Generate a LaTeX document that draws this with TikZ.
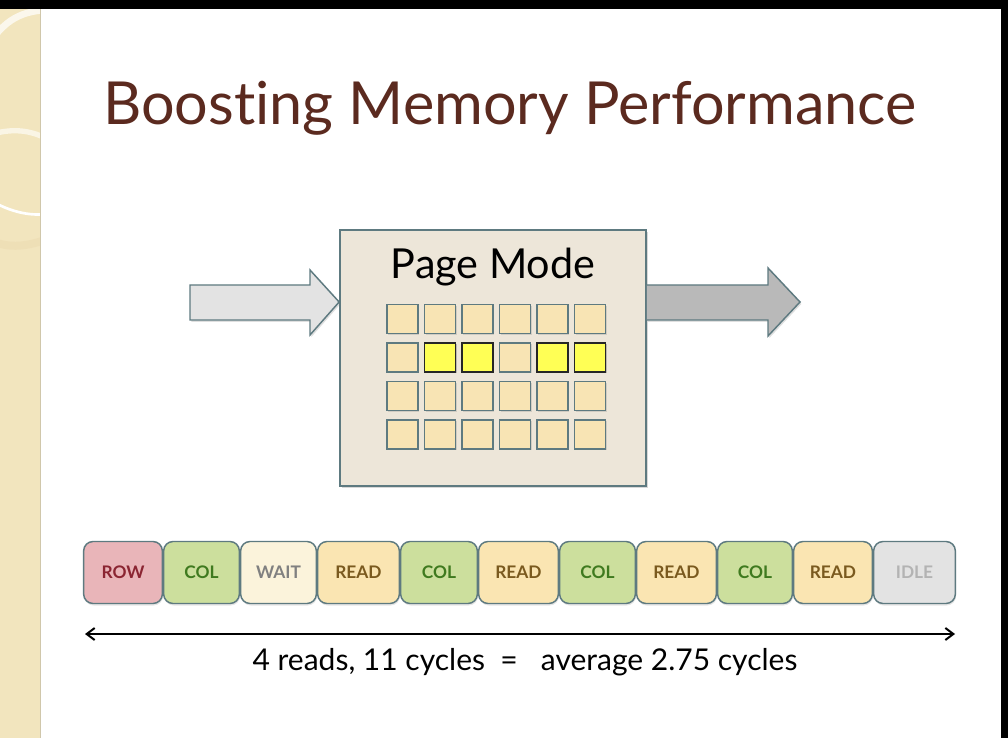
\documentclass[tikz,border=0pt]{standalone}
\usepackage{fontspec}
\setmainfont{Lato}[Ligatures={NoCommon}]
\usetikzlibrary{arrows.meta,shadows}
\definecolor{titlec}{HTML}{5B2A1F}
\definecolor{edgec}{HTML}{5E7A80}
\definecolor{stripc}{HTML}{F2E5BE}
\definecolor{boxfill}{HTML}{EDE6D9}
\definecolor{cellfill}{HTML}{F8E4B4}
\definecolor{hifill}{HTML}{FFFF55}
\definecolor{rowf}{HTML}{E9B5B9}\definecolor{rowt}{HTML}{8B2532}
\definecolor{colf}{HTML}{CCDF9D}\definecolor{colt}{HTML}{3F7A1F}
\definecolor{waitf}{HTML}{FBF3DB}\definecolor{waitt}{HTML}{808080}
\definecolor{readf}{HTML}{FAE5B2}\definecolor{readt}{HTML}{7A5A1F}
\definecolor{idlef}{HTML}{E3E3E3}\definecolor{idlet}{HTML}{B3B3B3}
\tikzset{
  cell/.style={draw=edgec,line width=1.4pt,fill=cellfill,minimum width=23.25pt,minimum height=21.75pt,inner sep=0pt,drop shadow={opacity=0.25,shadow xshift=1pt,shadow yshift=-1pt}},
  hicell/.style={cell,draw=black!85,fill=hifill},
  slot/.style={draw=edgec,line width=1.1pt,rounded corners=7pt,inner sep=0pt,minimum height=46.5pt,font=\bfseries\fontsize{13}{13}\selectfont,drop shadow={opacity=0.2,shadow xshift=0.5pt,shadow yshift=-1.5pt}},
  bigarrow/.style={draw=edgec,line width=1.1pt,line join=miter}
}
\begin{document}
\begin{tikzpicture}[x=0.75pt,y=-0.75pt]
\useasboundingbox (0,0) rectangle (1008,738);
\fill[white] (0,0) rectangle (1008,738);
% left decorative strip
\begin{scope}
\clip (0,0) rectangle (40,738);
\fill[stripc] (0,0) rectangle (40,738);
\draw[white!70!stripc,line width=5pt] (-20,60) .. controls (0,20) and (20,12) .. (45,10);
\draw[stripc!85!brown,line width=6pt,opacity=0.4] (-10,240) .. controls (10,250) and (30,245) .. (45,240);
\draw[white!60!stripc,line width=4pt] (-10,135) .. controls (10,128) and (30,130) .. (45,138);
\draw[white,line width=2pt] (-10,200) .. controls (10,212) and (30,216) .. (45,214);
\end{scope}
\draw[stripc!70!gray,line width=1pt] (40.5,0) -- (40.5,738);
% black frame edges
\fill[black] (0,0) rectangle (1008,9);
\fill[black] (1001,0) rectangle (1008,738);
% title
\node[text=titlec,font=\fontsize{44.5}{48}\selectfont] (title) at (510,108) {Boosting Memory Performance};
% page mode box
\node[draw=edgec,line width=1.3pt,fill=boxfill,minimum width=229.5pt,minimum height=192pt,inner sep=0pt,drop shadow={opacity=0.3,shadow xshift=1.5pt,shadow yshift=-1.5pt}] (pm) at (493,358) {};
\node[font=\fontsize{31}{33}\selectfont] (pmt) at (493,267) {Page Mode};
% grid
\foreach \r/\y in {1/319,2/357.5,3/396,4/434.5}{
  \foreach \c/\x in {1/402.5,2/440,3/477.5,4/515,5/552.5,6/590}{
    \node[cell] (c\r\c) at (\x,\y) {};
  }
}
\foreach \c/\x in {2/440,3/477.5,5/552.5,6/590}{
  \node[hicell] (h\c) at (\x,357.5) {};
}
% arrows
\coordinate (inTip) at (pm.west |- 0,302);
\draw[bigarrow,fill=gray!22,drop shadow={opacity=0.25,shadow xshift=1pt,shadow yshift=-1.5pt}] (190,285) -- (310,285) -- (310,270) -- (inTip) -- (310,335) -- (310,320) -- (190,320) -- cycle;
\coordinate (outTip) at (800,302);
\draw[bigarrow,fill=gray!55,drop shadow={opacity=0.25,shadow xshift=1pt,shadow yshift=-1.5pt}] (pm.east |- 0,285) -- (768,285) -- (768,268) -- (outTip) -- (768,336) -- (768,320) -- (pm.east |- 0,320);
% timeline slots
\foreach \n/\a/\b/\lab/\f/\t in {
  s1/83/163/ROW/rowf/rowt,
  s2/163/240/COL/colf/colt,
  s3/240/317/WAIT/waitf/waitt,
  s4/317/400/READ/readf/readt,
  s5/400/478/COL/colf/colt,
  s6/478/559/READ/readf/readt,
  s7/559/636/COL/colf/colt,
  s8/636/717/READ/readf/readt,
  s9/717/793/COL/colf/colt,
  s10/793/873/READ/readf/readt,
  s11/873/956/IDLE/idlef/idlet}{
  \pgfmathsetmacro{\w}{(\b-\a)*0.75-1}
  \node[slot,fill=\f,text=\t,minimum width=\w pt] (\n) at ({(\a+\b)/2},572.5) {\lab};
}
% span arrow
\coordinate (spanL) at (85,634);
\coordinate (spanR) at (955,634);
\draw[line width=1.5pt,{Straight Barb[length=6pt,width=9pt]}-{Straight Barb[length=6pt,width=9pt]}] (spanL) -- (spanR);
\node[font=\fontsize{22.5}{25}\selectfont] (sum) at (525,662) {4 reads, 11 cycles\ \ =\ \ \ average 2.75 cycles};
\end{tikzpicture}
\end{document}
